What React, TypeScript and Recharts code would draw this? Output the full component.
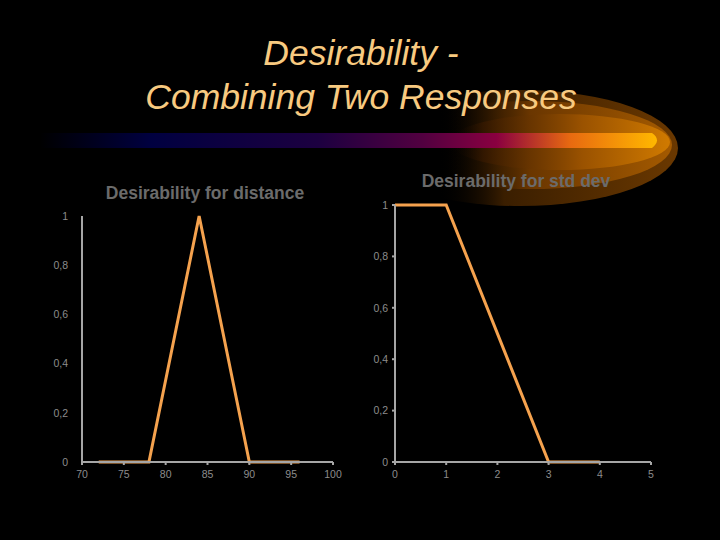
import React from 'react'
import { LineChart, Line, XAxis, YAxis } from 'recharts'

// Desirability for distance (triangle)
const distanceX = [72, 78, 84, 90, 96]
const distanceD = [0, 0, 1, 0, 0]

// Desirability for std dev (ramp down)
const stdDevX = [0, 1, 3, 4]
const stdDevD = [1, 1, 0, 0]

const yTicks = [0, 0.2, 0.4, 0.6, 0.8, 1]
const distanceTicks = [70, 75, 80, 85, 90, 95, 100]
const stdDevTicks = [0, 1, 2, 3, 4, 5]

const distanceData = distanceX.map((x, i) => ({ x, d: distanceD[i] }))
const stdDevData = stdDevX.map((x, i) => ({ x, d: stdDevD[i] }))

const AXIS = '#a6a6a6'
const LABEL = '#8c8c8c'
const LINE = '#f5a24e'
const FONT = 'Liberation Sans, Arial, sans-serif'
const comma = (v: number) => String(v).replace('.', ',')
const tickStyle = { fill: LABEL, fontSize: 10.5, fontFamily: FONT }

function Decor() {
  return (
    <svg width={720} height={540} style={{ position: 'absolute', left: 0, top: 0 }}>
      <defs>
        <linearGradient id="bar" x1="0" x2="1" y1="0" y2="0">
          <stop offset="0%" stopColor="#000000" />
          <stop offset="18%" stopColor="#000040" />
          <stop offset="45%" stopColor="#1c0040" />
          <stop offset="62%" stopColor="#520040" />
          <stop offset="74%" stopColor="#8a0040" />
          <stop offset="86%" stopColor="#e86a10" />
          <stop offset="100%" stopColor="#ffb800" />
        </linearGradient>
        <linearGradient id="glow" x1="0" x2="1" y1="0" y2="0">
          <stop offset="0%" stopColor="#000000" stopOpacity="0" />
          <stop offset="24%" stopColor="#000000" stopOpacity="0" />
          <stop offset="45%" stopColor="#3a1e00" />
          <stop offset="100%" stopColor="#6a3800" />
        </linearGradient>
        <linearGradient id="glow2" x1="0" x2="1" y1="0" y2="0">
          <stop offset="0%" stopColor="#000000" stopOpacity="0" />
          <stop offset="20%" stopColor="#000000" stopOpacity="0" />
          <stop offset="50%" stopColor="#6a3600" />
          <stop offset="100%" stopColor="#a45a00" />
        </linearGradient>
        <linearGradient id="glow3" x1="0" x2="1" y1="0" y2="0">
          <stop offset="0%" stopColor="#000000" stopOpacity="0" />
          <stop offset="15%" stopColor="#3a1a00" stopOpacity="0.6" />
          <stop offset="60%" stopColor="#9a5200" />
          <stop offset="100%" stopColor="#d07a00" />
        </linearGradient>
      </defs>
      <ellipse cx={520} cy={148} rx={158} ry={58} fill="url(#glow)" />
      <ellipse cx={530} cy={145} rx={142} ry={44} fill="url(#glow2)" />
      <ellipse cx={560} cy={142} rx={110} ry={28} fill="url(#glow3)" />
      <path d="M40 133 H652 Q662 140 652 148 H40 Z" fill="url(#bar)" />
      <text x={361} y={65} textAnchor="middle" fill="#f8ca80" fontStyle="italic" fontSize={35.5} fontFamily={FONT}>
        Desirability -
      </text>
      <text x={361} y={109} textAnchor="middle" fill="#f8ca80" fontStyle="italic" fontSize={35.5} fontFamily={FONT}>
        Combining Two Responses
      </text>
      <text x={205} y={199} textAnchor="middle" fill="#6b6b6b" fontWeight="bold" fontSize={17.5} fontFamily={FONT}>
        Desirability for distance
      </text>
      <text x={516} y={187} textAnchor="middle" fill="#6b6b6b" fontWeight="bold" fontSize={17.5} fontFamily={FONT}>
        Desirability for std dev
      </text>
    </svg>
  )
}

export default function App() {
  return (
    <div style={{ position: 'fixed', left: 0, top: 0, width: 720, height: 540, background: '#000', overflow: 'hidden' }}>
      <Decor />
      <div style={{ position: 'absolute', left: 40, top: 200 }}>
        <LineChart width={310} height={290} data={distanceData} margin={{ top: 16, right: 17, left: 0, bottom: 4 }}>
          <XAxis
            dataKey="x"
            type="number"
            domain={[70, 100]}
            ticks={distanceTicks}
            interval={0}
            height={24}
            stroke={AXIS}
            strokeWidth={2}
            tickSize={3}
            tickMargin={6}
            tick={tickStyle}
          />
          <YAxis
            type="number"
            domain={[0, 1]}
            ticks={yTicks}
            interval={0}
            width={42}
            stroke={AXIS}
            strokeWidth={2}
            tickLine={false}
            tickMargin={8}
            tick={tickStyle}
            tickFormatter={comma}
          />
          <Line dataKey="d" stroke={LINE} strokeWidth={3} dot={false} isAnimationActive={false} />
        </LineChart>
      </div>
      <div style={{ position: 'absolute', left: 360, top: 190 }}>
        <LineChart width={320} height={300} data={stdDevData} margin={{ top: 15, right: 29, left: 0, bottom: 4 }}>
          <XAxis
            dataKey="x"
            type="number"
            domain={[0, 5]}
            ticks={stdDevTicks}
            interval={0}
            height={24}
            stroke={AXIS}
            strokeWidth={2}
            tickSize={3}
            tickMargin={6}
            tick={tickStyle}
          />
          <YAxis
            type="number"
            domain={[0, 1]}
            ticks={yTicks}
            interval={0}
            width={35}
            stroke={AXIS}
            strokeWidth={2}
            tickSize={3}
            tickMargin={4}
            tick={tickStyle}
            tickFormatter={comma}
          />
          <Line dataKey="d" stroke={LINE} strokeWidth={3} dot={false} isAnimationActive={false} />
        </LineChart>
      </div>
    </div>
  )
}
